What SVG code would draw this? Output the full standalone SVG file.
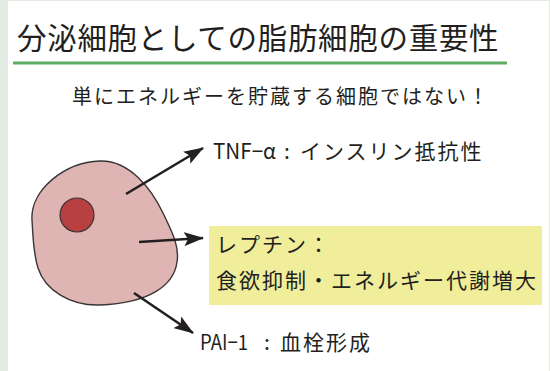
<svg xmlns="http://www.w3.org/2000/svg" width="550" height="371" viewBox="0 0 550 371">
  <style>
    text { font-family: "Noto Sans CJK JP", "Noto Sans", sans-serif; fill: #231f20; }
    .title { font-size: 29.5px; letter-spacing: 0.7px; }
    .sub { font-size: 20px; letter-spacing: 2px; }
    .lbl { font-size: 21px; letter-spacing: 2px; }
    .arrow { stroke: #231f20; stroke-width: 2.6; fill: none; marker-end: url(#head); }
  </style>
  <defs>
    <marker id="head" viewBox="0 0 20 14" refX="19" refY="7" markerWidth="20" markerHeight="14" markerUnits="userSpaceOnUse" orient="auto">
      <path d="M0,0 L20,7 L0,14 L4,7 Z" fill="#231f20"/>
    </marker>
  </defs>

  <!-- page frame -->
  <rect x="0" y="0" width="550" height="371" fill="#e3ebe5"/>
  <rect x="8" y="1" width="541" height="370" fill="#ffffff"/>

  <!-- heading -->
  <g id="heading">
    <text class="title" x="17" y="48.5">分泌細胞としての脂肪細胞の重要性</text>
    <rect x="13" y="61.5" width="494" height="3" fill="#5fad65"/>
  </g>

  <g id="subtitle">
    <text class="sub" x="72" y="104">単にエネルギーを貯蔵する細胞ではない！</text>
  </g>

  <!-- adipocyte -->
  <g id="cell">
    <path d="M32,220 C30,190 65,162 100,161 C130,160 152,190 163,213 C170,228 180,245 177,262 C174,285 150,303 100,305 C70,306 45,290 38,268 C33,252 33,235 32,220 Z" fill="#dfb5b3" stroke="#3a3436" stroke-width="1.4"/>
    <circle cx="77" cy="215" r="17" fill="#b84040" stroke="#3a3436" stroke-width="1.2"/>
  </g>

  <!-- connectors -->
  <g id="connectors">
    <line class="arrow" x1="126" y1="194" x2="203" y2="148"/>
    <line class="arrow" x1="139" y1="242" x2="203" y2="238"/>
    <line class="arrow" x1="134" y1="293" x2="193" y2="333"/>
  </g>

  <g id="tnf">
    <text class="lbl" y="159"><tspan x="213" textLength="63" lengthAdjust="spacingAndGlyphs" letter-spacing="0">TNF−α</tspan><tspan x="284" letter-spacing="0">:</tspan><tspan x="300">インスリン抵抗性</tspan></text>
  </g>

  <g id="leptin">
    <rect x="209" y="226" width="333" height="79" fill="#f0ee9a"/>
    <text class="lbl" x="216" y="252">レプチン：</text>
    <text class="lbl" x="216" y="288">食欲抑制・エネルギー代謝増大</text>
  </g>

  <g id="pai">
    <text class="lbl" y="350"><tspan x="200" textLength="48" lengthAdjust="spacingAndGlyphs" letter-spacing="0">PAI−1</tspan><tspan x="264" letter-spacing="0">:</tspan><tspan x="280">血栓形成</tspan></text>
  </g>
</svg>
